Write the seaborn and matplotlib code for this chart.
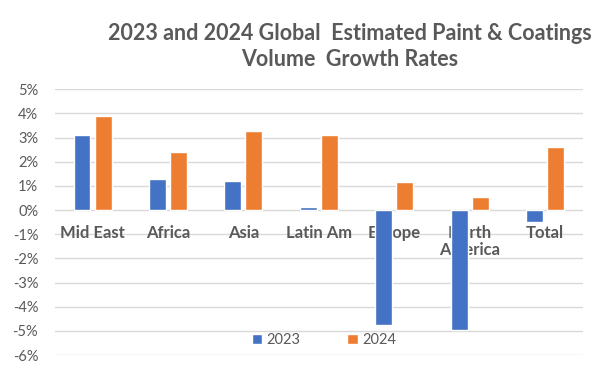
import pandas as pd
import matplotlib
matplotlib.use("Agg")
import matplotlib.pyplot as plt
import seaborn as sns
from matplotlib.ticker import FuncFormatter

# Data
regions = ['Mid East', 'Africa', 'Asia', 'Latin Am', 'Europe', 'North\nAmerica', 'Total']
growth_2023 = [3.1, 1.3, 1.2, 0.12, -4.75, -4.95, -0.5]
growth_2024 = [3.9, 2.4, 3.25, 3.1, 1.15, 0.55, 2.6]
years = ['2023', '2024']
yticks = list(range(-6, 6))

sns.set_style("white")
plt.rcParams['font.family'] = ['Lato', 'DejaVu Sans']

grey_text = '#595959'
palette = {'2023': '#4472C4', '2024': '#ED7D31'}

df = pd.DataFrame({
    'Region': regions * 2,
    'Year': [years[0]] * len(regions) + [years[1]] * len(regions),
    'Growth': growth_2023 + growth_2024,
})

fig = plt.figure(figsize=(6.16, 3.70), dpi=100)
ax = fig.add_axes([0.089, 0.0405, 0.857, 0.7185])

sns.barplot(data=df, x='Region', y='Growth', hue='Year', palette=palette,
            width=0.56, gap=0.2, order=regions, hue_order=years, ax=ax,
            zorder=3, saturation=1)

ax.set_ylim(-6, 5)
ax.set_xlim(-0.5, len(regions) - 0.5)
ax.set_yticks(yticks)
ax.yaxis.set_major_formatter(FuncFormatter(lambda v, p: f"{int(v)}%"))
ax.tick_params(axis='y', labelsize=10.5, colors=grey_text, length=0, pad=12)
ax.set_xticks([])
ax.set_xlabel('')
ax.set_ylabel('')
ax.grid(axis='y', color='#D9D9D9', linewidth=1, zorder=0)
for s in ax.spines.values():
    s.set_visible(False)

# category labels sit just under the zero line, behind the bars
for i, r in enumerate(regions):
    ax.text(i, -0.6, r, ha='center', va='top', fontsize=12,
            fontweight='bold', color=grey_text, zorder=2, linespacing=1.15)

leg = ax.legend(loc='center', bbox_to_anchor=(0.51, 0.055), ncol=2,
                frameon=False, fontsize=10.5, handlelength=0.7,
                handleheight=0.7, columnspacing=3.2, handletextpad=0.3)
for t in leg.get_texts():
    t.set_color(grey_text)

fig.text(0.568, 0.874, "2023 and 2024 Global  Estimated Paint & Coatings\nVolume  Growth Rates",
         ha='center', va='center', fontsize=15.5, fontweight='bold',
         color=grey_text, linespacing=1.3)

fig.savefig('out.png', dpi=100)
